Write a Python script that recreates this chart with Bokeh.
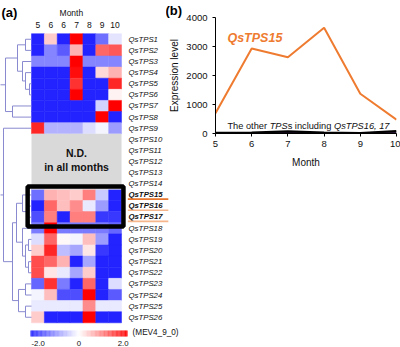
import numpy as np
from bokeh.plotting import figure
from bokeh.models import Range1d, ColumnDataSource, LinearColorMapper, Label, FixedTicker
from bokeh.transform import transform
from bokeh.layouts import row
from bokeh.core.properties import value
from bokeh.embed import file_html
from bokeh.resources import INLINE

FONT = "Liberation Sans"

# ---------------- data: panel (a) heatmap ----------------
MONTH_COLS = ["5", "6", "6", "7", "8", "9", "10"]
GENES = ["QsTPS%d" % i for i in range(1, 27)]
ND_GENES = ["QsTPS10", "QsTPS11", "QsTPS12", "QsTPS13", "QsTPS14"]
HIGHLIGHT = ["QsTPS15", "QsTPS16", "QsTPS17"]
HEAT_VALUES = [
    [-2.0, 0.4, -2.0, 2.0, -2.0, -1.3, -0.25],   # QsTPS1
    [-2.0, -1.1, -1.5, 0.6, -2.0, 1.2, 1.3],     # QsTPS2
    [-1.1, -1.1, -1.1, 2.0, -1.1, -1.1, -1.1],   # QsTPS3
    [-2.0, -2.0, -2.0, 1.9, -2.0, 0.3, 0.6],     # QsTPS4
    [-2.0, -2.0, -2.0, 1.6, -2.0, -2.0, 1.7],    # QsTPS5
    [-2.0, -2.0, -2.0, 2.0, -2.0, -2.0, 0.1],    # QsTPS6
    [-2.0, -2.0, -2.0, -2.0, -2.0, -0.4, 2.0],   # QsTPS7
    [-2.0, -2.0, -2.0, -2.0, -2.0, 2.0, -2.0],   # QsTPS8
    [1.7, -0.7, -0.7, -0.7, -0.3, -0.1, -0.9],   # QsTPS9
    None, None, None, None, None,                # QsTPS10-14 N.D.
    [-1.3, 0.6, 0.5, 0.4, 1.0, -0.5, -2.0],      # QsTPS15
    [-2.0, 1.2, 0.5, 0.9, -0.2, -0.9, -2.0],     # QsTPS16
    [-1.6, 1.0, -2.0, 1.0, 1.0, -1.8, -1.8],     # QsTPS17
    [-1.2, 2.0, -1.2, -1.2, -1.2, -1.2, -1.4],   # QsTPS18
    [-0.3, 1.2, 0.05, -0.1, 0.5, -0.9, -2.0],    # QsTPS19
    [0.4, 1.7, -0.6, -0.8, 0.2, -1.8, -2.0],     # QsTPS20
    [1.4, 1.2, 0.6, -2.0, -0.8, -2.0, -2.0],     # QsTPS21
    [1.4, 0.2, -0.2, -0.8, 0.4, -2.0, -2.0],     # QsTPS22
    [-1.4, 1.6, -1.2, -2.0, 1.2, -2.0, -0.3],    # QsTPS23
    [-0.1, 0.5, -1.6, -1.6, 2.0, -2.0, -1.5],    # QsTPS24
    [-0.2, -0.2, -0.2, -0.2, 0.9, -0.2, -0.2],   # QsTPS25
    [0.4, -2.0, -2.0, -2.0, 2.0, -2.0, -2.0],    # QsTPS26
]
SCALE_LOW, SCALE_HIGH = -2.0, 2.0
SCALE_TICKS = ["-2.0", "0", "2.0"]
SCALE_NAME = "(MEV4_9_0)"

# dendrogram merges: (node, child_a, child_b, distance)
DENDRO = [
    ("n1", "QsTPS1", "QsTPS2", 6),
    ("n2", "QsTPS5", "QsTPS6", 2),
    ("n3", "QsTPS4", "n2", 6),
    ("n4", "QsTPS3", "n3", 9),
    ("n5", "n1", "n4", 14),
    ("n6", "QsTPS7", "QsTPS8", 19),
    ("n7", "n5", "n6", 26),
    ("n8", "QsTPS16", "QsTPS17", 5),
    ("n9", "QsTPS15", "n8", 9),
    ("n10", "QsTPS19", "QsTPS20", 3),
    ("n11", "QsTPS21", "QsTPS22", 3),
    ("n12", "n10", "n11", 6),
    ("n13", "QsTPS18", "n12", 9),
    ("n14", "n9", "n13", 15),
    ("n15", "QsTPS23", "QsTPS24", 6),
    ("n16", "QsTPS25", "QsTPS26", 6),
    ("n17", "n15", "n16", 13),
    ("n18", "n14", "n17", 19),
    ("n19", "QsTPS9", "n18", 28),
    ("n20", "n7", "n19", 34),
]

# ---------------- data: panel (b) line chart ----------------
MONTHS = [5, 6, 7, 8, 9, 10]
QSTPS15 = [700, 2930, 2630, 3650, 1370, 480]
OTHER_TPS_A = [25, 30, 75, 30, 15, 85]
OTHER_TPS_B = [5, 10, 35, 10, 5, 40]
Y_TICKS = [0, 1000, 2000, 3000, 4000]

# ---------------- palette ----------------
def make_palette(n=256):
    blue = np.array([35, 35, 255]); white = np.array([255, 255, 255]); red = np.array([255, 0, 0])
    pal = []
    for t in np.linspace(0, 1, n):
        if t < 0.5:
            c = blue + (white - blue) * (t / 0.5)
        else:
            c = white + (red - white) * ((t - 0.5) / 0.5)
        pal.append("#%02x%02x%02x" % tuple(int(round(v)) for v in c))
    return pal

PALETTE = make_palette()
mapper = LinearColorMapper(palette=PALETTE, low=SCALE_LOW, high=SCALE_HIGH)

# ---------------- panel (a) ----------------
COL_PX, ROW_PX = 12.86, 11.12
WA, H = 184, 347
OVERLAP = 18
x0 = -31 / COL_PX
y0 = -33.2 / ROW_PX
pa = figure(width=WA, height=H, output_backend="svg", toolbar_location=None,
            x_range=Range1d(x0, x0 + WA / COL_PX), y_range=Range1d(y0 + H / ROW_PX, y0),
            x_axis_type=None, y_axis_type=None, min_border=0)
pa.frame_align = False
pa.outline_line_color = None
pa.grid.visible = False

ncol = len(MONTH_COLS)
xs, ys, vs = [], [], []
for r, rowvals in enumerate(HEAT_VALUES):
    if rowvals is None:
        continue
    for c, v in enumerate(rowvals):
        xs.append(c + 0.5); ys.append(r + 0.5); vs.append(v)
src = ColumnDataSource(dict(x=xs, y=ys, v=vs))
pa.rect(x="x", y="y", width=1, height=1, source=src,
        fill_color=transform("v", mapper), line_color=transform("v", mapper), line_width=0.5)

# N.D. block
nd_idx = [GENES.index(g) for g in ND_GENES]
pa.quad(left=[0], right=[ncol], top=[min(nd_idx)], bottom=[max(nd_idx) + 1],
        fill_color="#d9d9d9", line_color=None)
nd_mid = (min(nd_idx) + max(nd_idx) + 1) / 2
pa.text(x=[ncol / 2, ncol / 2], y=[nd_mid - 0.75, nd_mid + 0.5], text=["N.D.", "in all months"],
        text_font=value(FONT), text_font_style="bold", text_font_size="10.5px",
        text_align="center", text_baseline="middle", text_color="#111111")

# dendrogram
pos = {g: (0.0, i + 0.5) for i, g in enumerate(GENES)}
seg = dict(x0=[], y0=[], x1=[], y1=[])
for node, a, b, d in DENDRO:
    xn = -d / COL_PX
    (xa, ya), (xb, yb) = pos[a], pos[b]
    for (xc, yc) in ((xa, ya), (xb, yb)):
        seg["x0"].append(xc); seg["y0"].append(yc); seg["x1"].append(xn); seg["y1"].append(yc)
    seg["x0"].append(xn); seg["y0"].append(ya); seg["x1"].append(xn); seg["y1"].append(yb)
    pos[node] = (xn, (ya + yb) / 2)
pa.segment(x0="x0", y0="y0", x1="x1", y1="y1", source=ColumnDataSource(seg),
           line_color="#8a8ad0", line_width=1)

# highlight box
hl_idx = [GENES.index(g) for g in HIGHLIGHT]
pa.quad(left=[-0.3], right=[ncol + 0.15], top=[min(hl_idx) - 0.27], bottom=[max(hl_idx) + 1.33],
        fill_color=None, line_color="black", line_width=4.5)

# row labels
lab_x = ncol + 0.54
normal = [g for g in GENES if g not in HIGHLIGHT]
pa.text(x=[lab_x] * len(normal), y=[GENES.index(g) + 0.5 for g in normal], text=normal,
        text_font=value(FONT), text_font_style="italic", text_font_size="7.8px",
        text_baseline="middle", text_color="#111111")
pa.text(x=[lab_x] * len(HIGHLIGHT), y=[i + 0.45 for i in hl_idx], text=HIGHLIGHT,
        text_font=value(FONT), text_font_style="bold italic", text_font_size="7.8px",
        text_baseline="middle", text_color="#111111")
pa.segment(x0=[lab_x - 0.05] * 3, x1=[lab_x + 3.1] * 3, y0=[i + 0.88 for i in hl_idx],
           y1=[i + 0.88 for i in hl_idx], line_color=["#E8762D", "#F6B68C", "#F6B68C"], line_width=1.6)

# column headers
pa.text(x=[c + 0.5 for c in range(ncol)], y=[-0.74] * ncol, text=MONTH_COLS,
        text_font=value(FONT), text_font_size="8.5px", text_align="center", text_baseline="middle",
        text_color="#111111")
pa.text(x=[3.1], y=[-1.9], text=["Month"], text_font=value(FONT), text_font_size="8.5px",
        text_align="center", text_baseline="middle", text_color="#111111")
pa.text(x=[x0 + 1 / COL_PX], y=[-1.9], text=["(a)"], text_font=value(FONT), text_font_style="bold",
        text_font_size="13px", text_baseline="middle", text_color="black")

# colour scale bar
n = 120
grad = np.linspace(SCALE_LOW, SCALE_HIGH, n)
cb_left, cb_right = -0.08, ncol + 0.46
edges = np.linspace(cb_left, cb_right, n + 1)
cb_top = len(GENES) + 0.69
cbsrc = ColumnDataSource(dict(l=edges[:-1], r=edges[1:] + 0.01, v=grad))
pa.quad(left="l", right="r", top=cb_top, bottom=cb_top + 0.54, source=cbsrc,
        fill_color=transform("v", mapper), line_color=None)
tick_y = len(GENES) + 1.86
pa.text(x=[0.0], y=[tick_y], text=[SCALE_TICKS[0]], text_font=value(FONT), text_font_size="7.8px",
        text_align="left", text_baseline="middle", text_color="#111111")
pa.text(x=[(cb_left + cb_right) / 2], y=[tick_y], text=[SCALE_TICKS[1]], text_font=value(FONT),
        text_font_size="7.8px", text_align="center", text_baseline="middle", text_color="#111111")
pa.text(x=[cb_right + 0.08], y=[tick_y], text=[SCALE_TICKS[2]], text_font=value(FONT),
        text_font_size="7.8px", text_align="right", text_baseline="middle", text_color="#111111")
pa.text(x=[cb_right + 0.4], y=[cb_top + 0.2], text=[SCALE_NAME], text_font=value(FONT),
        text_font_size="8.2px", text_align="left", text_baseline="middle", text_color="#111111")

# ---------------- panel (b) ----------------
WB = 400 - WA + OVERLAP
pb = figure(width=WB, height=H, output_backend="svg", toolbar_location=None,
            x_range=Range1d(5, 10), y_range=Range1d(0, 4000),
            min_border_left=46, min_border_right=4, min_border_top=17, min_border_bottom=214)
pb.margin = (0, 0, 0, -OVERLAP)
pb.frame_align = False
pb.background_fill_color = None
pb.border_fill_color = None
pb.outline_line_color = None
pb.grid.visible = False
pb.line(MONTHS, OTHER_TPS_B, line_color="#3a1f4f", line_width=2)
pb.line(MONTHS, OTHER_TPS_A, line_color="black", line_width=2.2)
pb.line(MONTHS, QSTPS15, line_color="#EE7B30", line_width=2)

pb.title.text = "(b)"
pb.title.align = "left"
pb.title.offset = -50
pb.title.standoff = 0
pb.title.text_font = FONT
pb.title.text_font_style = "bold"
pb.title.text_font_size = "13px"
pb.title.text_color = "black"

pb.xaxis.ticker = FixedTicker(ticks=MONTHS)
pb.yaxis.ticker = FixedTicker(ticks=Y_TICKS)
pb.xaxis.axis_label = "Month"
pb.yaxis.axis_label = "Expression level"
for ax in (pb.xaxis, pb.yaxis):
    ax.axis_label_text_font = FONT
    ax.axis_label_text_font_style = "normal"
    ax.axis_label_text_font_size = "10px"
    ax.axis_label_text_color = "#111111"
    ax.major_label_text_font = FONT
    ax.major_label_text_font_size = "9.5px"
    ax.major_label_text_color = "#111111"
    ax.minor_tick_line_color = None
    ax.major_tick_in = 0
    ax.major_tick_out = 3
    ax.axis_line_color = "black"
    ax.major_tick_line_color = "black"
pb.yaxis.major_label_standoff = 5
pb.yaxis.axis_label_standoff = 3
pb.xaxis.major_label_standoff = 4
pb.xaxis.axis_label_standoff = 7

pb.add_layout(Label(x=5.33, y=3300, text="QsTPS15", text_font=FONT, text_font_style="bold italic",
                    text_font_size="12.5px", text_color="#EE7B30", text_baseline="middle"))
parts = [("The other ", "normal", 0), ("TPS", "italic", 42.2), ("s including ", "normal", 60.2),
         ("QsTPS16, 17", "italic", 106.5)]
for t, style, off in parts:
    pb.add_layout(Label(x=5.33, y=250, x_offset=off, text=t, text_font=FONT, text_font_style=style,
                        text_font_size="9.25px", text_color="#111111", text_baseline="middle"))

layout = row(pa, pb)
open("out.html", "w").write(file_html(layout, INLINE))
